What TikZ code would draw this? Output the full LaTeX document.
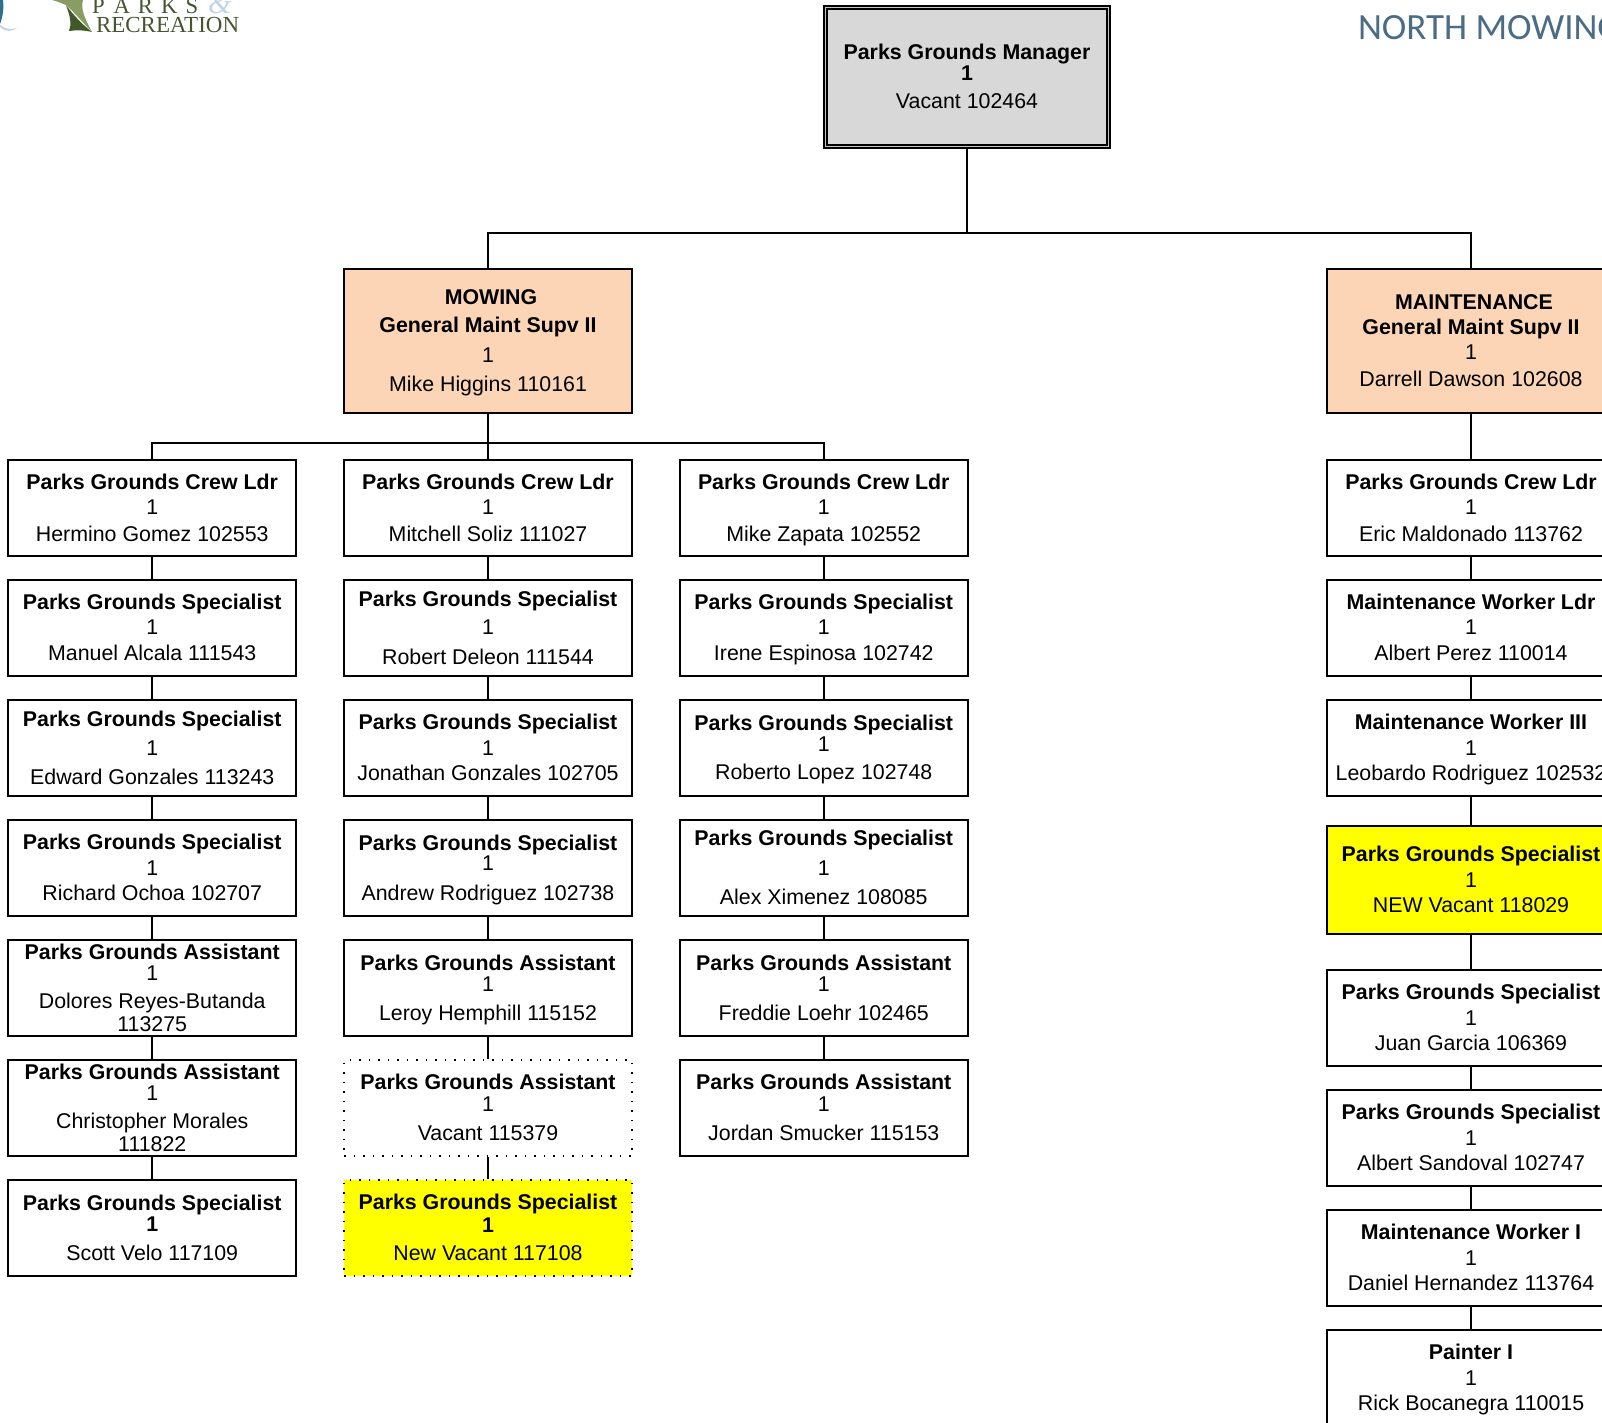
\documentclass[tikz,border=0pt]{standalone}
\usepackage{fontspec}
\setmainfont{Liberation Sans}
\newfontfamily\logofont{Liberation Serif}
\newfontfamily\titlefont{Carlito}
\definecolor{peach}{HTML}{FBD5B5}
\definecolor{mgrgray}{HTML}{D8D8D8}
\definecolor{slateblue}{HTML}{4A6C84}
\definecolor{logogreen}{HTML}{46552F}
\definecolor{leafgreen}{HTML}{8B9C62}
\definecolor{stemgreen}{HTML}{3F5A28}
\definecolor{swirlteal}{HTML}{2F6F8C}
\definecolor{swirlblue}{HTML}{BFD5E6}
\definecolor{newyellow}{HTML}{FFFF00}
\tikzset{
  staffbox/.style={draw, line width=2pt, minimum width=288pt, minimum height=96pt,
    align=center, inner sep=0pt, text depth=1pt, font=\fontsize{21.35}{25.5}\selectfont},
  mgrbox/.style={staffbox, fill=mgrgray, line width=2pt, double=gray!45, double distance=1.6pt,
    minimum width=283pt, minimum height=139pt},
  supvbox/.style={staffbox, fill=peach, minimum height=144pt},
  newbox/.style={staffbox, fill=newyellow, minimum height=108pt},
  vacantbox/.style={staffbox, line width=1.5pt, dash pattern=on 1.5pt off 8pt},
  newvacantbox/.style={vacantbox, fill=newyellow}
}
\begin{document}
\begin{tikzpicture}[x=1pt, y=1pt, line width=2pt,
    parent anchor=south, child anchor=north,
    edge from parent/.style={draw, line width=2pt},
    level 1/.style={level distance=264pt, sibling distance=983pt,
      edge from parent path={(\tikzparentnode.south) -- +(0,-85pt) -| (\tikzchildnode.north)}},
    level 2/.style={level distance=167pt, sibling distance=335.75pt,
      edge from parent path={(\tikzparentnode.south) -- +(0,-29pt) -| (\tikzchildnode.north)}},
    level 3/.style={level distance=120pt,
      edge from parent path={(\tikzparentnode.south) -- (\tikzchildnode.north)}}]
  \useasboundingbox (0,0) rectangle (1602,-1422);
  \clip (0,0) rectangle (1602,-1422);

  % logo
  \fill[leafgreen] (52,0) -- (83,0) .. controls (80,-10) and (86,-20) .. (92,-32) .. controls (84,-24) and (76,-14) .. (66,-5) .. controls (61,-3) and (56,-1) .. (52,0) -- cycle;
  \fill[stemgreen] (69,-31) .. controls (72,-24) and (70,-16) .. (66,-5) .. controls (74,-16) and (84,-26) .. (92,-32) .. controls (84,-30) and (76,-30) .. (69,-31) -- cycle;
  \fill[swirlteal] (0,0) -- (3,0) .. controls (4,-8) and (3,-16) .. (0,-24) -- cycle;
  \fill[swirlblue] (0,-27) .. controls (6,-32) and (12,-32) .. (17,-28) .. controls (11,-30) and (5,-29) .. (0,-25) -- cycle;
  \node[anchor=base west, inner sep=0pt, text=logogreen, font=\logofont\fontsize{22.7}{24}\selectfont] (parkslabel) at (91,-13)
    {P\kern9pt A\kern8pt R\kern8pt K\kern8pt S};
  \node[anchor=base west, inner sep=0pt, text=swirlblue, font=\logofont\itshape\fontsize{30}{32}\selectfont] (andlabel) at (207,-13) {\&};
  \node[anchor=base west, inner sep=0pt, text=logogreen, font=\logofont\fontsize{23}{24}\selectfont] (reclabel) at (95,-32) {RECREATION};

  \node[anchor=base west, inner sep=0pt, text=slateblue, font=\titlefont\fontsize{37}{40}\selectfont] (maintitle) at (1357,-39) {NORTH MOWING};

  \node[mgrbox] (manager) at (967,-77) {\textbf{Parks Grounds Manager}\\[-5pt]\textbf{1}\\[3pt]Vacant 102464}
  child[xshift=12.5pt] {
    node[supvbox] (mowing) {\hspace*{6pt}\textbf{MOWING}\\[3pt]\textbf{General Maint Supv II}\\[4pt]1\\[4pt]Mike Higgins 110161}
    child {
      node[staffbox] (crewa) {\textbf{Parks Grounds Crew Ldr}\\[0pt]1\\[1pt]Hermino Gomez 102553}
      child {
        node[staffbox] (alcala) {\textbf{Parks Grounds Specialist}\\[-1pt]1\\[1pt]Manuel Alcala 111543}
        child {
          node[staffbox] (gonzalese) {\textbf{Parks Grounds Specialist}\\[4pt]1\\[3pt]Edward Gonzales 113243}
          child {
            node[staffbox] (ochoa) {\textbf{Parks Grounds Specialist}\\[0pt]1\\[0pt]Richard Ochoa 102707}
            child {
              node[staffbox] (reyes) {\textbf{Parks Grounds Assistant}\\[-5pt]1\\[3pt]Dolores Reyes-Butanda\\[-3pt]113275}
              child {
                node[staffbox] (morales) {\textbf{Parks Grounds Assistant}\\[-5pt]1\\[3pt]Christopher Morales\\[-3pt]111822}
                child {
                  node[staffbox] (velo) {\textbf{Parks Grounds Specialist}\\[-4pt]\textbf{1}\\[3pt]Scott Velo 117109}
                }
              }
            }
          }
        }
      }
    }
    child {
      node[staffbox] (crewb) {\textbf{Parks Grounds Crew Ldr}\\[0pt]1\\[1pt]Mitchell Soliz 111027}
      child {
        node[staffbox] (deleon) {\textbf{Parks Grounds Specialist}\\[3pt]1\\[4pt]Robert Deleon 111544}
        child {
          node[staffbox] (gonzalesj) {\textbf{Parks Grounds Specialist}\\[0pt]1\\[0pt]Jonathan Gonzales 102705}
          child {
            node[staffbox] (rodrigueza) {\textbf{Parks Grounds Specialist}\\[-5pt]1\\[4pt]Andrew Rodriguez 102738}
            child {
              node[staffbox] (hemphill) {\textbf{Parks Grounds Assistant}\\[-4pt]1\\[3pt]Leroy Hemphill 115152}
              child {
                node[vacantbox] (vacanta) {\textbf{Parks Grounds Assistant}\\[-4pt]1\\[4pt]Vacant 115379}
                child {
                  node[newvacantbox] (vacantb) {\textbf{Parks Grounds Specialist}\\[-3pt]\textbf{1}\\[3pt]New Vacant 117108}
                }
              }
            }
          }
        }
      }
    }
    child {
      node[staffbox] (crewc) {\textbf{Parks Grounds Crew Ldr}\\[0pt]1\\[1pt]Mike Zapata 102552}
      child {
        node[staffbox] (espinosa) {\textbf{Parks Grounds Specialist}\\[-1pt]1\\[1pt]Irene Espinosa 102742}
        child {
          node[staffbox] (lopez) {\textbf{Parks Grounds Specialist}\\[-5pt]1\\[3pt]Roberto Lopez 102748}
          child {
            node[staffbox] (ximenez) {\textbf{Parks Grounds Specialist}\\[4pt]1\\[4pt]Alex Ximenez 108085}
            child {
              node[staffbox] (loehr) {\textbf{Parks Grounds Assistant}\\[-4pt]1\\[3pt]Freddie Loehr 102465}
              child {
                node[staffbox] (smucker) {\textbf{Parks Grounds Assistant}\\[-4pt]1\\[4pt]Jordan Smucker 115153}
              }
            }
          }
        }
      }
    }
  }
  child[xshift=12.5pt] {
    node[supvbox] (maintenance) {\hspace*{6pt}\textbf{MAINTENANCE}\\[-1pt]\textbf{General Maint Supv II}\\[0pt]1\\[1pt]Darrell Dawson 102608}
    child[edge from parent path={(\tikzparentnode.south) -- (\tikzchildnode.north)}] {
      node[staffbox] (crewd) {\textbf{Parks Grounds Crew Ldr}\\[0pt]1\\[1pt]Eric Maldonado 113762}
      child {
        node[staffbox] (perez) {\textbf{Maintenance Worker Ldr}\\[-1pt]1\\[1pt]Albert Perez 110014}
        child {
          node[staffbox] (rodriguezl) {\textbf{Maintenance Worker III}\\[0pt]1\\[0pt]Leobardo Rodriguez 102532}
          child[level distance=132pt] {
            node[newbox] (vacantc) {\textbf{Parks Grounds Specialist}\\[0pt]1\\[0pt]NEW Vacant 118029}
            child[level distance=138pt] {
              node[staffbox] (garcia) {\textbf{Parks Grounds Specialist}\\[0pt]1\\[0pt]Juan Garcia 106369}
              child[level distance=120pt] {
                node[staffbox] (sandoval) {\textbf{Parks Grounds Specialist}\\[0pt]1\\[0pt]Albert Sandoval 102747}
                child {
                  node[staffbox] (hernandez) {\textbf{Maintenance Worker I}\\[0pt]1\\[0pt]Daniel Hernandez 113764}
                  child {
                    node[staffbox] (bocanegra) {\textbf{Painter I}\\[0pt]1\\[0pt]Rick Bocanegra 110015}
                  }
                }
              }
            }
          }
        }
      }
    }
  };
\end{tikzpicture}
\end{document}
